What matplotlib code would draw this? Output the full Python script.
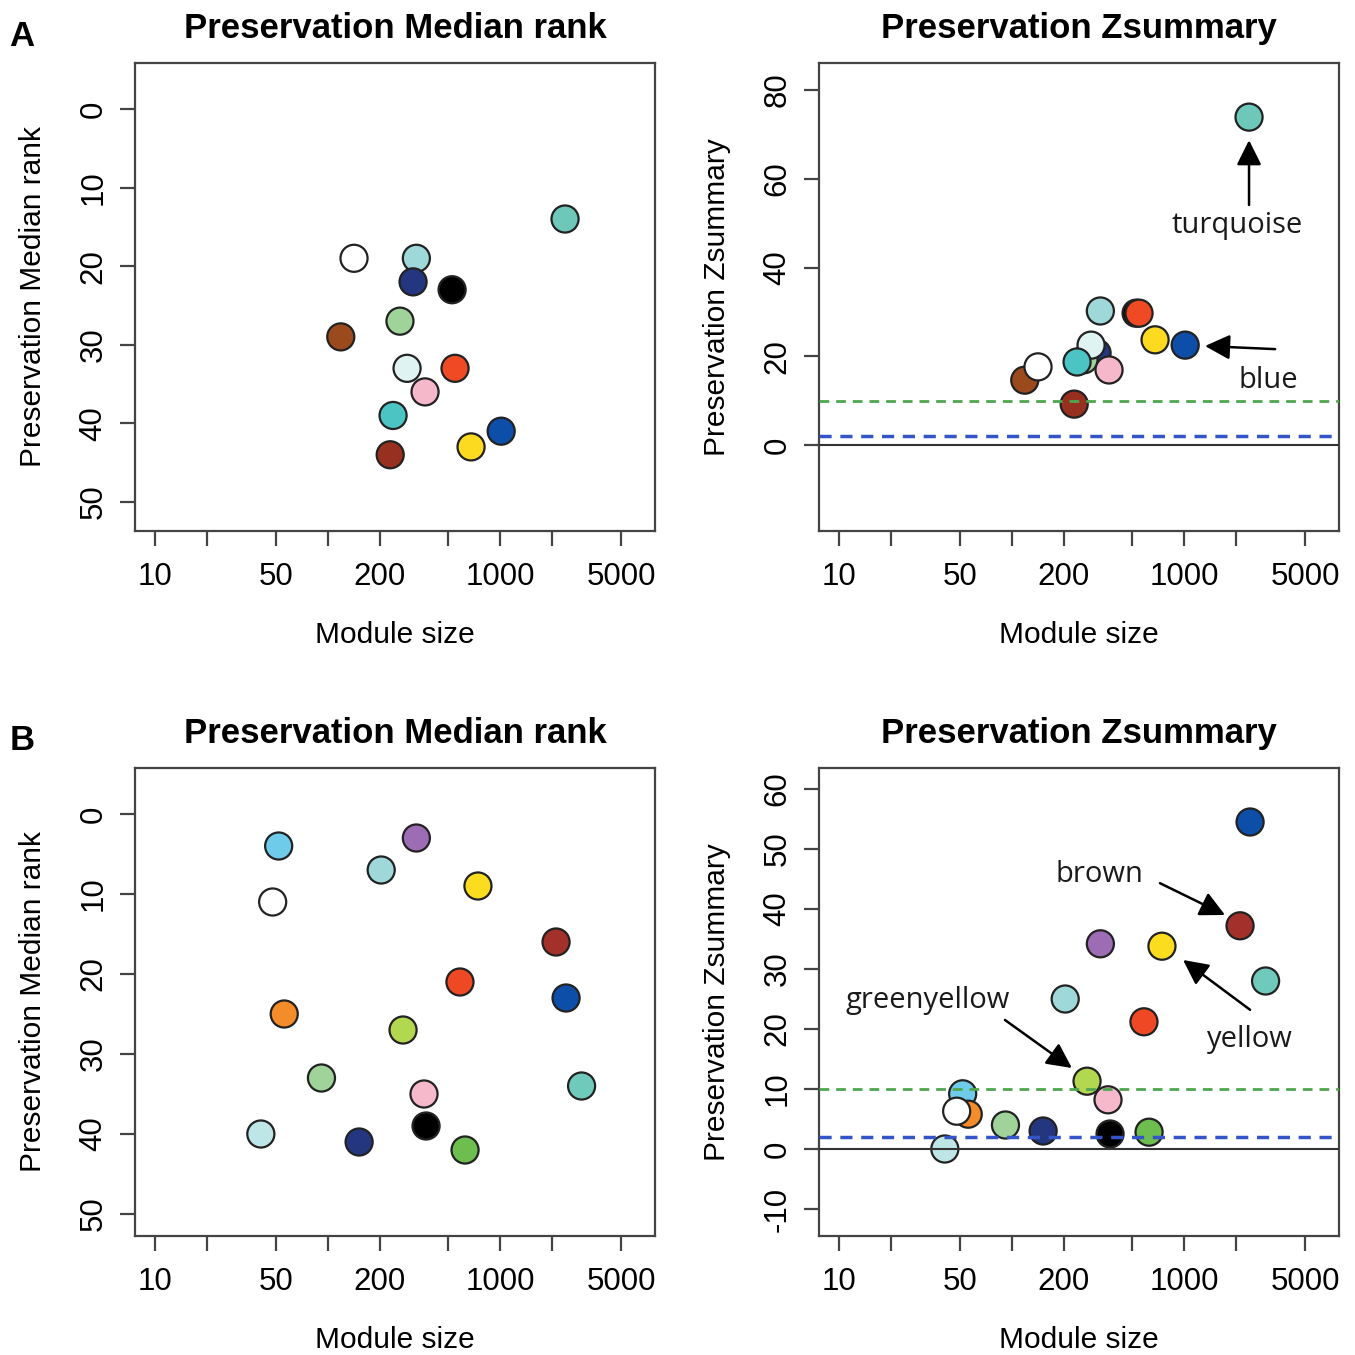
import matplotlib
matplotlib.use("Agg")
import matplotlib.pyplot as plt
import numpy as np

# ---------------- data ----------------
# Dataset A
modules_A = ["turquoise", "saddlebrown", "white", "paleturquoise", "midnightblue",
             "black", "red", "lightgreen", "lightcyan", "pink", "darkturquoise",
             "blue", "yellow", "darkred"]
colors_A = ["#6dc8b9", "#9b4a1e", "#ffffff", "#9fd8d8", "#253680",
            "#000000", "#ef4a24", "#9fd39a", "#e0f3f3", "#f5b8cb", "#4cc4c4",
            "#0d4ea8", "#fcda1f", "#98301f"]
size_A = [2366, 119, 142, 326, 312, 525, 546, 262, 288, 366, 239, 1010, 676, 230]
rank_A = [14, 29, 19, 19, 22, 23, 33, 27, 33, 36, 39, 41, 43, 44]
zsum_A = [73.9, 14.6, 17.6, 30.2, 20.7, 29.7, 29.7, 19.2, 22.5, 16.9, 18.7, 22.5, 23.7, 9.2]

# Dataset B
modules_B = ["skyblue", "purple", "paleturquoise", "yellow", "brown", "red",
             "blue", "orange", "white", "greenyellow", "lightgreen", "pink",
             "turquoise", "lightcyan", "midnightblue", "black", "green"]
colors_B = ["#6ecbea", "#9c6cb4", "#9fd8d8", "#fcdc1f", "#a3302a", "#ee4824",
            "#0d4ea8", "#f48c2a", "#ffffff", "#b2d850", "#9fd39a", "#f6b9cb",
            "#70cabb", "#bfe6e6", "#253680", "#000000", "#6dbd4f"]
size_B = [52, 326, 204, 741, 2099, 583, 2399, 56, 48, 273, 92, 361, 2950, 41, 152, 371, 624]
rank_B = [4, 3, 7, 9, 16, 21, 23, 25, 11, 27, 33, 35, 34, 40, 41, 39, 42]
zsum_B = [9.2, 34.2, 25.0, 33.8, 37.2, 21.2, 54.5, 5.8, 6.3, 11.3, 4.0, 8.2, 28.0, 0.0, 3.0, 2.5, 2.8]

x_ticks = [10, 20, 50, 100, 200, 500, 1000, 2000, 5000]
x_ticklabels = ["10", "", "50", "", "200", "", "1000", "", "5000"]
rank_ticks = [0, 10, 20, 30, 40, 50]
zA_ticks = [0, 20, 40, 60, 80]
zB_ticks = [-10, 0, 10, 20, 30, 40, 50, 60]

# ---------------- figure ----------------
W = H = 1355
fig = plt.figure(figsize=(W / 100, H / 100), dpi=100)
plt.rcParams["font.family"] = ["Liberation Sans", "DejaVu Sans"]

FS_TICK = 22.5
FS_LAB = 21.5
SPINE = "#444444"


def add_ax(x0, y0, x1, y1):
    return fig.add_axes([x0 / W, 1 - y1 / H, (x1 - x0) / W, (y1 - y0) / H])


def style(ax, ylim, yticks, title, ylabel):
    ax.set_xscale("log")
    ax.set_xlim(7.66, 7850)
    ax.set_xticks(x_ticks)
    ax.set_xticklabels(x_ticklabels)
    ax.xaxis.set_minor_locator(matplotlib.ticker.NullLocator())
    ax.set_ylim(*ylim)
    ax.set_yticks(yticks)
    ax.set_yticklabels([str(t) for t in yticks], rotation=90, va="center")
    ax.tick_params(axis="both", length=11, width=1.6, color=SPINE,
                   labelsize=FS_TICK, direction="out")
    ax.tick_params(axis="x", pad=11)
    ax.tick_params(axis="y", pad=8)
    for s in ax.spines.values():
        s.set_color(SPINE)
        s.set_linewidth(1.6)
    ax.set_title(title, fontsize=25, fontweight="bold", pad=18)
    ax.set_xlabel("Module size", fontsize=FS_LAB, labelpad=21)
    ax.set_ylabel(ylabel, fontsize=FS_LAB, labelpad=23)


def pts(ax, x, y, c):
    ax.scatter(x, y, s=380, c=c, edgecolors="#222222", linewidths=1.6, zorder=3)


def hlines(ax):
    ax.axhline(0, color="#333333", lw=1.5, zorder=4)
    ax.axhline(2, color="#3355c8", lw=2.5, ls=(0, (3.5, 2.5)), zorder=4)
    ax.axhline(10, color="#4fa64f", lw=2.0, ls=(0, (3.5, 2.5)), zorder=4)


ann_font = dict(fontsize=21, family=["Open Sans", "DejaVu Sans"], color="#1a1a1a")
arrow = dict(arrowstyle="-|>", mutation_scale=38, lw=1.8, color="black",
             shrinkA=0, shrinkB=0)

# Panel A left
ax1 = add_ax(135, 63, 655, 531)
pts(ax1, size_A, rank_A, colors_A)
style(ax1, (53.7, -5.85), rank_ticks, "Preservation Median rank", "Preservation Median rank")

# Panel A right
ax2 = add_ax(819, 63, 1339, 531)
pts(ax2, size_A, zsum_A, colors_A)
hlines(ax2)
style(ax2, (-19.4, 86.1), zA_ticks, "Preservation Zsummary", "Preservation Zsummary")
ax2.annotate("", xy=(2366, 68.7), xytext=(2366, 54.1), arrowprops=arrow)
ax2.text(2018, 49.4, "turquoise", ha="center", va="center", **ann_font)
ax2.annotate("", xy=(1315, 22.3), xytext=(3350, 21.6), arrowprops=arrow)
ax2.text(3050, 14.6, "blue", ha="center", va="center", **ann_font)

# Panel B left
ax3 = add_ax(135, 768, 655, 1236)
pts(ax3, size_B, rank_B, colors_B)
style(ax3, (52.75, -5.75), rank_ticks, "Preservation Median rank", "Preservation Median rank")

# Panel B right
ax4 = add_ax(819, 768, 1339, 1236)
pts(ax4, size_B, zsum_B, colors_B)
hlines(ax4)
style(ax4, (-14.5, 63.5), zB_ticks, "Preservation Zsummary", "Preservation Zsummary")
ax4.annotate("", xy=(1718, 39.0), xytext=(722, 44.3), arrowprops=arrow)
ax4.text(324, 45.8, "brown", ha="center", va="center", **ann_font)
ax4.annotate("", xy=(982, 31.5), xytext=(2399, 23.2), arrowprops=arrow)
ax4.text(2399, 18.2, "yellow", ha="center", va="center", **ann_font)
ax4.annotate("", xy=(223, 13.5), xytext=(91.4, 21.5), arrowprops=arrow)
ax4.text(32.7, 24.7, "greenyellow", ha="center", va="center", **ann_font)

# Panel letters
fig.text(22 / W, 1 - 37 / H, "A", fontsize=25, fontweight="bold", ha="center", va="center")
fig.text(22 / W, 1 - 740 / H, "B", fontsize=25, fontweight="bold", ha="center", va="center")

fig.savefig("out.png", dpi=100, facecolor="white")
